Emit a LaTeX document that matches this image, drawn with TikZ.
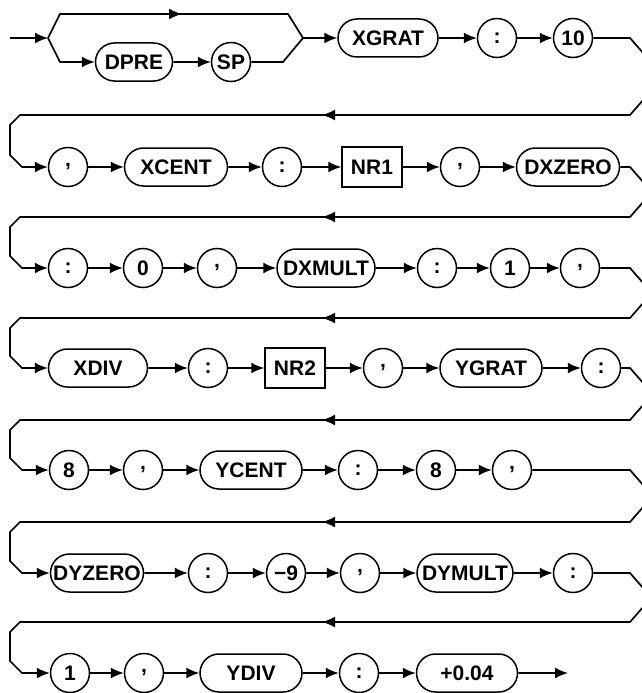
\documentclass[tikz,border=0pt]{standalone}
\usepackage{fontspec}
\setmainfont{Liberation Sans}
\usetikzlibrary{arrows.meta,shapes.misc}
\newcommand{\sepcomma}{\raisebox{3pt}{,}}
\tikzset{
  term/.style={circle,draw,line width=1.5pt,minimum size=39pt,inner sep=0pt},
  word/.style={rounded rectangle,draw,line width=1.5pt,minimum height=38pt,inner sep=0pt},
  numbox/.style={rectangle,draw,line width=1.5pt,minimum width=60pt,minimum height=40pt,inner sep=0pt},
  rail/.style={line width=1.7pt},
  arr/.style={rail,-{Latex[length=13pt,width=11pt]}}
}
\begin{document}
\begin{tikzpicture}[x=1pt,y=-1pt,font=\fontsize{21}{24}\selectfont\bfseries]
  \useasboundingbox (0,0) rectangle (642,693);
  % row 1
  \coordinate (in) at (10,38);
  \coordinate (split) at (48,38);
  \coordinate (join) at (303,38);
  \node[word,minimum width=77pt] (dpre) at (134,62) {DPRE};
  \node[term] (sp) at (231,62) {SP};
  \node[word,minimum width=100pt] (xgrat) at (388,38) {XGRAT};
  \node[term] (c1) at (497,38) {:};
  \node[term] (ten) at (573,38) {10};
  \draw[arr] (in) -- (split);
  \draw[rail] (split) -- (60,14) -- (288,14) -- (join);
  \draw[arr] (160,14) -- (182,14);
  \draw[arr] (split) -- (60,62) -- (dpre);
  \draw[arr] (dpre) -- (sp);
  \draw[rail] (sp) -- (283,62) -- (join);
  \draw[arr] (join) -- (xgrat);
  \draw[arr] (xgrat) -- (c1);
  \draw[arr] (c1) -- (ten);
  % row 2
  \node[term] (cm2) at (68,167) {\sepcomma};
  \node[word,minimum width=103pt] (xcent) at (176,167) {XCENT};
  \node[term] (c2) at (282,167) {:};
  \node[numbox] (nra) at (372,167) {NR1};
  \node[term] (cm3) at (460,167) {\sepcomma};
  \node[word,minimum width=103pt] (dxzero) at (568,167) {DXZERO};
  \draw[arr] (ten) -- (630,38) -- (644,54) -- (644,99) -- (630,115) -- (20,115)
    -- (10,125) -- (10,155) -- (22,167) -- (cm2);
  \draw[arr] (340,115) -- (322,115);
  \draw[arr] (cm2) -- (xcent);
  \draw[arr] (xcent) -- (c2);
  \draw[arr] (c2) -- (nra);
  \draw[arr] (nra) -- (cm3);
  \draw[arr] (cm3) -- (dxzero);
  % row 3
  \node[term] (c3) at (68,268) {:};
  \node[term] (zero) at (143,268) {0};
  \node[term] (cm4) at (217,268) {\sepcomma};
  \node[word,minimum width=98pt] (dxmult) at (326,268) {DXMULT};
  \node[term] (c4) at (437,268) {:};
  \node[term] (one) at (510,268) {1};
  \node[term] (cm5) at (580,268) {\sepcomma};
  \draw[arr] (dxzero) -- (630,167) -- (644,183) -- (644,201) -- (630,217) -- (20,217)
    -- (10,227) -- (10,256) -- (22,268) -- (c3);
  \draw[arr] (340,217) -- (322,217);
  \draw[arr] (c3) -- (zero);
  \draw[arr] (zero) -- (cm4);
  \draw[arr] (cm4) -- (dxmult);
  \draw[arr] (dxmult) -- (c4);
  \draw[arr] (c4) -- (one);
  \draw[arr] (one) -- (cm5);
  % row 4
  \node[word,minimum width=99pt] (xdiv) at (98,368) {XDIV};
  \node[term] (c5) at (208,368) {:};
  \node[numbox] (nrb) at (295,368) {NR2};
  \node[term] (cm6) at (383,368) {\sepcomma};
  \node[word,minimum width=102pt] (ygrat) at (491,368) {YGRAT};
  \node[term] (c6) at (601,368) {:};
  \draw[arr] (cm5) -- (630,268) -- (644,284) -- (644,302) -- (630,318) -- (20,318)
    -- (10,328) -- (10,356) -- (22,368) -- (xdiv);
  \draw[arr] (340,318) -- (322,318);
  \draw[arr] (xdiv) -- (c5);
  \draw[arr] (c5) -- (nrb);
  \draw[arr] (nrb) -- (cm6);
  \draw[arr] (cm6) -- (ygrat);
  \draw[arr] (ygrat) -- (c6);
  % row 5
  \node[term] (eight) at (69,470) {8};
  \node[term] (cm7) at (143,470) {\sepcomma};
  \node[word,minimum width=102pt] (ycent) at (251,470) {YCENT};
  \node[term] (c7) at (358,470) {:};
  \node[term] (eightb) at (436,470) {8};
  \node[term] (cm8) at (512,470) {\sepcomma};
  \draw[arr] (c6) -- (630,368) -- (644,384) -- (644,404) -- (630,420) -- (20,420)
    -- (10,430) -- (10,458) -- (22,470) -- (eight);
  \draw[arr] (340,420) -- (322,420);
  \draw[arr] (eight) -- (cm7);
  \draw[arr] (cm7) -- (ycent);
  \draw[arr] (ycent) -- (c7);
  \draw[arr] (c7) -- (eightb);
  \draw[arr] (eightb) -- (cm8);
  % row 6
  \node[word,minimum width=93pt] (dyzero) at (97,573) {DYZERO};
  \node[term] (c8) at (208,573) {:};
  \node[term] (mnine) at (286,573) {−9};
  \node[term] (cm9) at (360,573) {\sepcomma};
  \node[word,minimum width=96pt] (dymult) at (465,573) {DYMULT};
  \node[term] (c9) at (573,573) {:};
  \draw[arr] (cm8) -- (630,470) -- (644,486) -- (644,506) -- (630,522) -- (20,522)
    -- (10,532) -- (10,561) -- (22,573) -- (dyzero);
  \draw[arr] (340,522) -- (322,522);
  \draw[arr] (dyzero) -- (c8);
  \draw[arr] (c8) -- (mnine);
  \draw[arr] (mnine) -- (cm9);
  \draw[arr] (cm9) -- (dymult);
  \draw[arr] (dymult) -- (c9);
  % row 7
  \node[term] (oneb) at (70,673) {1};
  \node[term] (cm10) at (144,673) {\sepcomma};
  \node[word,minimum width=102pt] (ydiv) at (251,673) {YDIV};
  \node[term] (c10) at (359,673) {:};
  \node[word,minimum width=101pt] (pzero) at (467,673) {+0.04};
  \coordinate (out) at (568,673);
  \draw[arr] (c9) -- (630,573) -- (644,589) -- (644,606) -- (630,622) -- (20,622)
    -- (10,632) -- (10,661) -- (22,673) -- (oneb);
  \draw[arr] (340,622) -- (322,622);
  \draw[arr] (oneb) -- (cm10);
  \draw[arr] (cm10) -- (ydiv);
  \draw[arr] (ydiv) -- (c10);
  \draw[arr] (c10) -- (pzero);
  \draw[arr] (pzero) -- (out);
\end{tikzpicture}
\end{document}
